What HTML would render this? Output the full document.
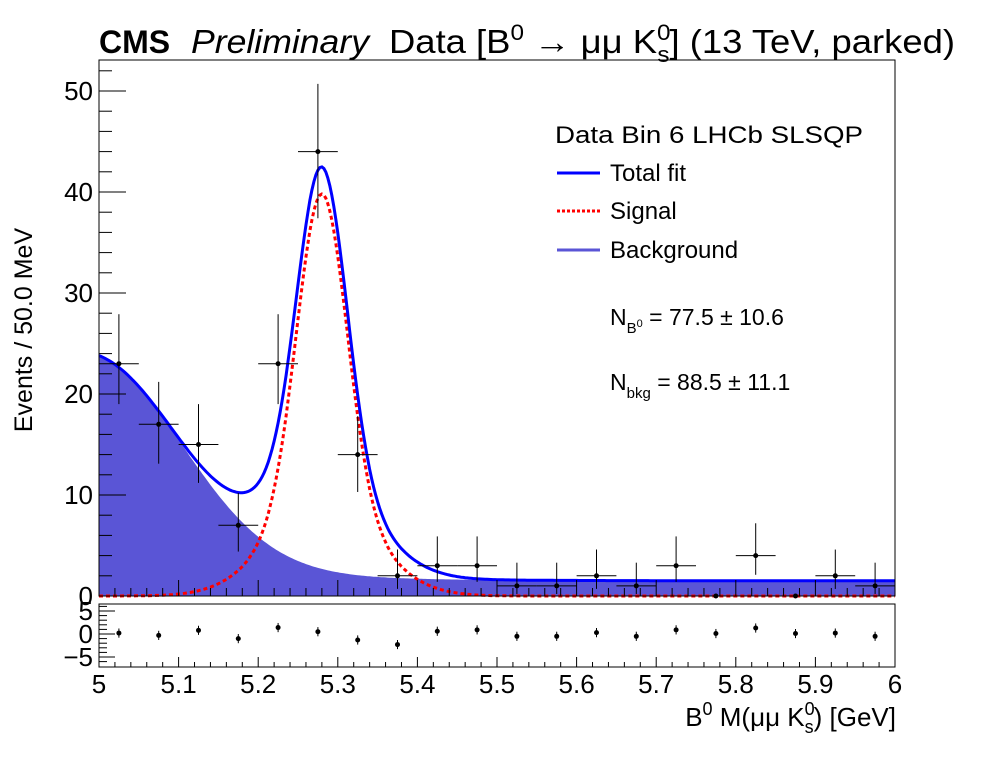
<!DOCTYPE html>
<html><head><meta charset="utf-8"><style>
body{margin:0;background:#fff;}
svg{display:block;font-family:"Liberation Sans",sans-serif;}
</style></head><body>
<svg id="c" width="996" height="772" xmlns="http://www.w3.org/2000/svg">
<rect width="996" height="772" fill="#fff"/>
<g id="main"></g>
<g id="pull"></g>
<text x="99" y="53" font-size="32" font-weight="bold">CMS</text>
<text x="191" y="53" font-size="33" font-style="italic" textLength="178" lengthAdjust="spacingAndGlyphs">Preliminary</text>
<text x="389" y="53" font-size="33" textLength="566" lengthAdjust="spacingAndGlyphs">Data [B<tspan dy="-13" font-size="22">0</tspan><tspan dy="13"> → μμ K</tspan><tspan dy="-13" font-size="22">0</tspan><tspan dx="-12" dy="22" font-size="22">s</tspan><tspan dy="-9">] (13 TeV, parked)</tspan></text>
<text transform="translate(32,330) rotate(-90)" text-anchor="middle" font-size="25">Events / 50.0 MeV</text>
<text x="896" y="726" text-anchor="end" font-size="26">B<tspan dy="-11" font-size="18">0</tspan><tspan dy="11"> M(μμ K</tspan><tspan dy="-11" font-size="18">0</tspan><tspan dx="-10" dy="18" font-size="18">s</tspan><tspan dy="-7">) [GeV]</tspan></text>
<g>
<text x="555" y="143" font-size="24" textLength="308" lengthAdjust="spacingAndGlyphs">Data Bin 6 LHCb SLSQP</text>
<line x1="557" y1="173" x2="600" y2="173" stroke="#0000ff" stroke-width="3"/>
<text x="610" y="181" font-size="24">Total fit</text>
<line x1="557" y1="211" x2="600" y2="211" stroke="#ff0000" stroke-width="3" stroke-dasharray="3,2"/>
<text x="610" y="219" font-size="24">Signal</text>
<line x1="557" y1="250" x2="600" y2="250" stroke="#5a55d6" stroke-width="3"/>
<text x="610" y="258" font-size="24">Background</text>
<text x="610" y="325" font-size="23">N<tspan dy="8" font-size="15">B</tspan><tspan dy="-6" font-size="11">0</tspan><tspan dy="-2"> = 77.5 ± 10.6</tspan></text>
<text x="610" y="390" font-size="23">N<tspan dy="8" font-size="15">bkg</tspan><tspan dy="-8"> = 88.5 ± 11.1</tspan></text>
</g>
</svg>
<script>
const categories=[5.025,5.075,5.125,5.175,5.225,5.275,5.325,5.375,5.425,5.475,5.525,5.575,5.625,5.675,5.725,5.775,5.825,5.875,5.925,5.975];
const counts=[23,17,15,7,23,44,14,2,3,3,1,1,2,1,3,0,4,0,2,1];
const errHi=[4.9,4.2,4.0,3.2,4.9,6.7,3.8,2.6,2.9,2.9,2.3,2.3,2.6,2.3,2.9,0,3.2,0,2.6,2.3];
const errLo=[4.0,3.9,3.8,2.6,4.0,6.6,3.7,1.3,1.6,1.6,0.8,0.8,1.3,0.8,1.6,0,1.9,0,1.3,0.8];
const pulls=[0.2,-0.3,0.8,-1.0,1.4,0.5,-1.3,-2.3,0.6,0.9,-0.5,-0.5,0.3,-0.5,0.9,0.1,1.3,0.1,0.2,-0.5];
const yTicks=[0,10,20,30,40,50];
const xTicks=[5,5.1,5.2,5.3,5.4,5.5,5.6,5.7,5.8,5.9,6];
const pullTicks=[-5,0,5];
const bkgPar=[1.5,18.3,0.11,4,0.13];
const sigPar=[5.28,30.8,0.031,9,0.065];

const NS='http://www.w3.org/2000/svg';
const L=99,R=895,T=60,B=596,PT=604,PB=667;
const X=v=>L+(v-5)/(1)*(R-L);
const Y=v=>B-v*(B-91)/50;
const PY=v=>634-v*4.6;
function mk(tag,attrs,parent){const e=document.createElementNS(NS,tag);for(const k in attrs)e.setAttribute(k,attrs[k]);parent.appendChild(e);return e;}
const bkg=x=>{const d=x-5;return bkgPar[0]+bkgPar[1]*Math.exp(-d*d/(2*bkgPar[2]*bkgPar[2]))+bkgPar[3]*Math.exp(-d/bkgPar[4]);};
const sig=x=>{const d=x-sigPar[0];return sigPar[1]*Math.exp(-d*d/(2*sigPar[2]**2))+sigPar[3]*Math.exp(-d*d/(2*sigPar[4]**2));};
const main=document.getElementById('main');const pull=document.getElementById('pull');

let pts=[];for(let i=0;i<=400;i++){const x=5+i/400;pts.push(X(x).toFixed(1)+','+Y(bkg(x)).toFixed(1));}
let bg=mk('polygon',{points:X(5)+','+B+' '+pts.join(' ')+' '+X(6)+','+B,fill:'#5a55d6'},main);


let sp=[];for(let i=0;i<=400;i++){const x=5+i/400;sp.push(X(x).toFixed(1)+','+Y(sig(x)).toFixed(1));}
let sl=mk('polyline',{points:sp.join(' '),fill:'none',stroke:'#ff0000','stroke-width':3,'stroke-dasharray':'4,3'},main);


let tp=[];for(let i=0;i<=400;i++){const x=5+i/400;tp.push(X(x).toFixed(1)+','+Y(sig(x)+bkg(x)).toFixed(1));}
let tl=mk('polyline',{points:tp.join(' '),fill:'none',stroke:'#0000ff','stroke-width':3},main);


categories.forEach((c,i)=>{
 const g=mk('g',{},main);
 
 
 const cx=X(c),cy=Y(counts[i]);
 mk('line',{x1:X(c-0.025),x2:X(c+0.025),y1:cy,y2:cy,stroke:'#000','stroke-width':1},g);
 if(errHi[i]>0){mk('line',{x1:cx,x2:cx,y1:Y(counts[i]+errHi[i]),y2:Y(counts[i]-errLo[i]),stroke:'#000','stroke-width':1},g);}
 mk('circle',{cx:cx,cy:cy,r:2.5,fill:'#000'},g);
 const pg=mk('g',{},pull);
 
 
 mk('line',{x1:cx,x2:cx,y1:PY(pulls[i]+1),y2:PY(pulls[i]-1),stroke:'#000','stroke-width':1},pg);
 mk('circle',{cx:cx,cy:PY(pulls[i]),r:2.5,fill:'#000'},pg);
});
let f=mk('rect',{x:L,y:T,width:R-L,height:B-T,fill:'none',stroke:'#000','stroke-width':1},main);


let pf=mk('rect',{x:L,y:PT,width:R-L,height:PB-PT,fill:'none',stroke:'#000','stroke-width':1},pull);


for(let v=0;v<=53;v+=2){mk('line',{x1:L,x2:L+(v%10==0?27:13),y1:Y(v),y2:Y(v),stroke:'#000'},main);}
yTicks.forEach(v=>{const t=mk('text',{x:L-6,y:Y(v)+9,'text-anchor':'end','font-size':26},main);t.textContent=v;
 
 });
for(let k=0;k<=50;k++){const x=5+k*0.02;const big=k%5==0;
 mk('line',{x1:X(x),x2:X(x),y1:B,y2:B-(big?16:8),stroke:'#000'},main);
 mk('line',{x1:X(x),x2:X(x),y1:PB,y2:PB-(big?10:5),stroke:'#000'},pull);}
xTicks.forEach(v=>{const t=mk('text',{x:X(v),y:693,'text-anchor':'middle','font-size':26},pull);t.textContent=(v==5||v==6)?String(v):v.toFixed(1);
 
 });
pullTicks.forEach(v=>{mk('line',{x1:L,x2:L+16,y1:PY(v),y2:PY(v),stroke:'#000'},pull);
 const t=mk('text',{x:L-6,y:PY(v)+9,'text-anchor':'end','font-size':26},pull);t.textContent=v<0?'−'+(-v):v;
 
 });
for(let v=-6;v<=6;v++){mk('line',{x1:L,x2:L+8,y1:PY(v),y2:PY(v),stroke:'#000'},pull);}
</script>
</body></html>
